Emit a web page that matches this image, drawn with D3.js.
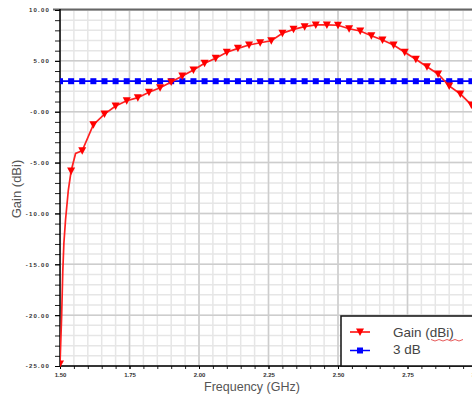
<!DOCTYPE html>
<html>
<head>
<meta charset="utf-8">
<script src="https://cdn.jsdelivr.net/npm/d3@7"></script>
<style>
  body { margin: 0; background: #fff; }
  svg { display: block; font-family: "Liberation Sans", Arial, sans-serif; }
</style>
</head>
<body>
<svg width="472" height="397"></svg>
<script>
// gain curve (GHz, dBi)
const gainFreq = [1.50, 1.506, 1.51, 1.514, 1.52, 1.53, 1.54, 1.556, 1.58, 1.62, 1.66, 1.70,
  1.74, 1.78, 1.82, 1.86, 1.90, 1.94, 1.98, 2.02, 2.06, 2.10, 2.14, 2.18, 2.22, 2.26, 2.30,
  2.34, 2.38, 2.42, 2.46, 2.50, 2.54, 2.58, 2.62, 2.66, 2.70, 2.74, 2.78, 2.82, 2.86, 2.90,
  2.94, 2.98, 3.00];
const gainDb = [-24.8, -20.0, -15.7, -12.9, -10.6, -7.7, -5.83, -4.1, -3.83, -1.28, -0.23, 0.56,
  1.08, 1.38, 1.91, 2.35, 2.92, 3.51, 4.10, 4.76, 5.25, 5.84, 6.23, 6.56, 6.78, 6.98, 7.71,
  8.10, 8.36, 8.53, 8.53, 8.50, 8.16, 7.94, 7.47, 7.05, 6.56, 5.84, 5.15, 4.42, 3.71, 2.53,
  1.74, 0.66, 0.20];

// 3 dB reference line
const refFreq = [1.50, 1.54, 1.58, 1.62, 1.66, 1.70, 1.74, 1.78, 1.82, 1.86, 1.90, 1.94, 1.98,
  2.02, 2.06, 2.10, 2.14, 2.18, 2.22, 2.26, 2.30, 2.34, 2.38, 2.42, 2.46, 2.50, 2.54, 2.58,
  2.62, 2.66, 2.70, 2.74, 2.78, 2.82, 2.86, 2.90, 2.94, 2.98];
const refDb = refFreq.map(() => 3);

const xTickVals = [1.50, 1.75, 2.00, 2.25, 2.50, 2.75, 3.00];
const xTickLabels = ["1.50", "1.75", "2.00", "2.25", "2.50", "2.75", "3.00"];
const yTickVals = [10, 5, 0, -5, -10, -15, -20, -25];
const yTickLabels = ["10.00", "5.00", "-0.00", "-5.00", "-10.00", "-15.00", "-20.00", "-25.00"];

const svg = d3.select("svg");

const x = d3.scaleLinear().domain([1.5, 3.0]).range([60, 477]);
const y = d3.scaleLinear().domain([-25, 10]).range([366, 10]);

const xMinor = d3.range(0, 31).map(i => 1.5 + i * 0.05);
const yMinor = d3.range(-25, 11, 1);

svg.append("clipPath").attr("id", "plot")
  .append("rect").attr("x", 60).attr("y", 9).attr("width", 420).attr("height", 358);

// grid
const grid = svg.append("g").attr("clip-path", "url(#plot)");
grid.selectAll(".vx").data(xMinor).enter().append("line")
  .attr("x1", d => x(d)).attr("x2", d => x(d))
  .attr("y1", y(10)).attr("y2", y(-25))
  .style("stroke", "#e6e6e6").style("stroke-width", 1.5);
grid.selectAll(".hy").data(yMinor).enter().append("line")
  .attr("y1", d => y(d)).attr("y2", d => y(d))
  .attr("x1", 60).attr("x2", 477)
  .style("stroke", "#e6e6e6").style("stroke-width", 1.5);
grid.selectAll(".vmaj").data(xTickVals).enter().append("line")
  .attr("x1", d => x(d)).attr("x2", d => x(d))
  .attr("y1", y(10)).attr("y2", y(-25))
  .style("stroke", "#cdcdcd").style("stroke-width", 1.5);
grid.selectAll(".hmaj").data(yTickVals).enter().append("line")
  .attr("y1", d => y(d)).attr("y2", d => y(d))
  .attr("x1", 60).attr("x2", 477)
  .style("stroke", "#cdcdcd").style("stroke-width", 1.5);

// top frame
svg.append("line").attr("x1", 53).attr("x2", 472).attr("y1", 9.5).attr("y2", 9.5)
  .style("stroke", "#666").style("stroke-width", 2);

// minor ticks
svg.append("g").attr("transform", "translate(60,0)")
  .call(d3.axisLeft(y).tickValues(yMinor).tickSize(5).tickFormat(""))
  .call(g => g.select(".domain").remove())
  .selectAll("line").style("stroke", "#222");
svg.append("g").attr("transform", "translate(0,366)")
  .call(d3.axisBottom(x).tickValues(xMinor).tickSize(3).tickFormat(""))
  .call(g => g.select(".domain").remove())
  .selectAll("line").style("stroke", "#222");

// labelled axes
const yAxis = svg.append("g").attr("transform", "translate(60,0)")
  .call(d3.axisLeft(y).tickValues(yTickVals).tickSize(5).tickPadding(5)
    .tickFormat((d, i) => yTickLabels[i]));
yAxis.select(".domain").attr("d", "M0,9V366").style("stroke", "#000").style("stroke-width", 1.5);
yAxis.selectAll("text").style("font-size", "6px").style("font-weight", "bold")
  .style("letter-spacing", "1.2px").style("fill", "#333");

const xAxis = svg.append("g").attr("transform", "translate(0,366)")
  .call(d3.axisBottom(x).tickValues(xTickVals).tickSize(3).tickPadding(4)
    .tickFormat((d, i) => xTickLabels[i]));
xAxis.select(".domain").attr("d", "M60,0H477").style("stroke", "#000").style("stroke-width", 1.5);
xAxis.selectAll("text").style("font-size", "6px").style("font-weight", "bold").style("fill", "#333");

// series
const plot = svg.append("g").attr("clip-path", "url(#plot)");
const line = d3.line().x(d => x(d[0])).y(d => y(d[1]));

const refPts = refFreq.map((f, i) => [f, refDb[i]]);
plot.append("path").datum(refPts.concat([[3.0, 3]]))
  .attr("d", line).style("fill", "none").style("stroke", "#0000ff").style("stroke-width", 1.8);
plot.selectAll(".sq").data(refPts).enter().append("rect")
  .attr("x", d => x(d[0]) - 3).attr("y", d => y(d[1]) - 3)
  .attr("width", 6).attr("height", 6).style("fill", "#0000ff");

const gainPts = gainFreq.map((f, i) => [f, gainDb[i]]);
plot.append("path").datum(gainPts)
  .attr("d", line).style("fill", "none").style("stroke", "#ff2020").style("stroke-width", 1.7);

const tri = "M-4,-3.5L4,-3.5L0,4Z";
const onStep = f => Math.abs((f - 1.5) / 0.04 - Math.round((f - 1.5) / 0.04)) < 1e-6;
plot.selectAll(".tri").data(gainPts.filter(d => onStep(d[0]))).enter().append("path")
  .attr("d", tri).attr("transform", d => `translate(${x(d[0])},${y(d[1])})`)
  .style("fill", "#ff0000");

// axis titles
svg.append("text").attr("x", 252).attr("y", 391).attr("text-anchor", "middle")
  .style("font-size", "12.5px").style("fill", "#555").text("Frequency (GHz)");
svg.append("text").attr("transform", "translate(21,189) rotate(-90)").attr("text-anchor", "middle")
  .style("font-size", "13px").style("fill", "#555").text("Gain (dBi)");

// legend
const lg = svg.append("g");
lg.append("rect").attr("x", 341).attr("y", 316).attr("width", 140).attr("height", 50)
  .style("fill", "#fff").style("stroke", "#111").style("stroke-width", 1.5);
lg.append("line").attr("x1", 350).attr("x2", 370).attr("y1", 332).attr("y2", 332)
  .style("stroke", "#ff0000").style("stroke-width", 1.5);
lg.append("path").attr("d", tri).attr("transform", "translate(360,332)").style("fill", "#ff0000");
lg.append("line").attr("x1", 350).attr("x2", 370).attr("y1", 350.5).attr("y2", 350.5)
  .style("stroke", "#0000ff").style("stroke-width", 1.5);
lg.append("rect").attr("x", 357).attr("y", 347.5).attr("width", 6).attr("height", 6).style("fill", "#0000ff");
lg.append("text").attr("x", 393).attr("y", 337).style("font-size", "13.5px").style("fill", "#444")
  .text("Gain (dBi)");
lg.append("text").attr("x", 393).attr("y", 354).style("font-size", "13.5px").style("fill", "#444")
  .text("3 dB");
// spell-check squiggle under "dBi"
lg.append("path").attr("d", d3.range(0, 9).map(i => (i ? "L" : "M") + (431 + i * 4) + "," + (339.5 + (i % 2) * 1.5)).join(""))
  .style("fill", "none").style("stroke", "#e03030").style("stroke-width", 0.8);
</script>
</body>
</html>
